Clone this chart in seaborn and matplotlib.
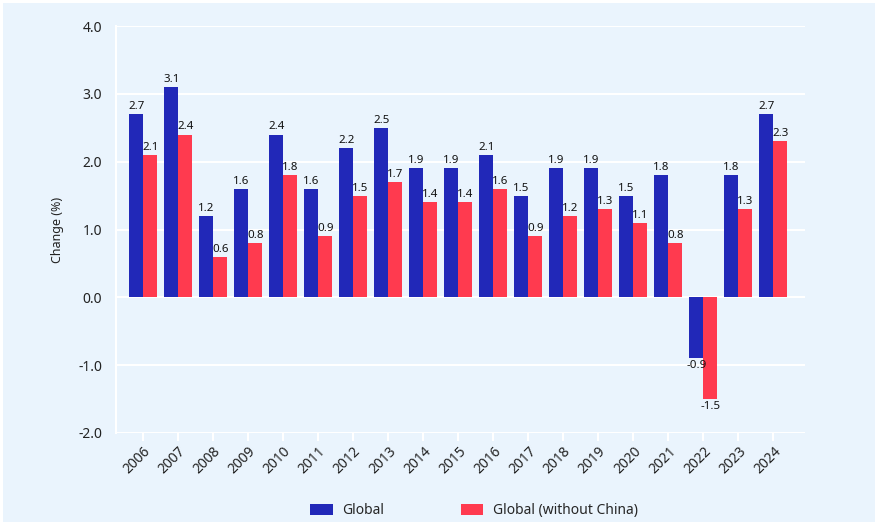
import matplotlib
matplotlib.use("Agg")
import matplotlib.pyplot as plt
import matplotlib.patches as mpatches
import seaborn as sns
import pandas as pd

years = [str(y) for y in range(2006, 2025)]
global_vals = [2.7, 3.1, 1.2, 1.6, 2.4, 1.6, 2.2, 2.5, 1.9, 1.9, 2.1, 1.5, 1.9, 1.9, 1.5, 1.8, -0.9, 1.8, 2.7]
no_china_vals = [2.1, 2.4, 0.6, 0.8, 1.8, 0.9, 1.5, 1.7, 1.4, 1.4, 1.6, 0.9, 1.2, 1.3, 1.1, 0.8, -1.5, 1.3, 2.3]
series_names = ["Global", "Global (without China)"]
yticks = [-2.0, -1.0, 0.0, 1.0, 2.0, 3.0, 4.0]

df = pd.DataFrame({
    "Year": years * 2,
    "Change": global_vals + no_china_vals,
    "Series": [series_names[0]] * len(years) + [series_names[1]] * len(years),
})

sns.set_theme(style="white")
plt.rcParams['font.family'] = ['Noto Sans', 'DejaVu Sans']

bg = "#EAF4FD"
colors = ["#2128B8", "#FF3A4F"]

fig = plt.figure(figsize=(8.78, 5.30), dpi=100, facecolor="white")
fig.patches.append(mpatches.Rectangle((3/878, 8/530), 872/878, 519/530,
                                      transform=fig.transFigure, facecolor=bg,
                                      edgecolor="none", zorder=-10))
ax = fig.add_axes([116/878, 1 - 433/530, (805 - 116)/878, (433 - 26)/530])
ax.set_facecolor(bg)

sns.barplot(data=df, x="Year", y="Change", hue="Series", palette=colors,
            width=0.8, ax=ax, saturation=1, legend=False, zorder=3,
            linewidth=0, edgecolor="none")

for cont in ax.containers:
    ax.bar_label(cont, fmt="%.1f", padding=1.5, fontsize=8.3, color="#111111")

ax.set_ylim(-2, 4)
ax.set_xlim(-0.78, 18.9)
ax.set_yticks(yticks)
ax.set_yticklabels([f"{v:.1f}" for v in yticks], fontsize=10, color="#222222")
ax.grid(axis="y", color="white", linewidth=1.5, zorder=0)
ax.set_axisbelow(True)
for s in ["top", "right", "bottom"]:
    ax.spines[s].set_visible(False)
ax.spines["left"].set_color("white")
ax.spines["left"].set_linewidth(1.5)
ax.tick_params(axis="y", length=6, color="white", width=1.5, pad=4)
ax.tick_params(axis="x", length=6, color="white", width=1.5, pad=2, bottom=True)
plt.setp(ax.get_xticklabels(), rotation=45, ha="right", rotation_mode="anchor",
         fontsize=10, color="#222222")
ax.set_xlabel("")
ax.set_ylabel("Change (%)", fontsize=9, color="#222222", labelpad=10)

handles = [mpatches.Patch(facecolor=c, edgecolor="none") for c in colors]
fig.legend(handles, series_names, loc="center", bbox_to_anchor=(0.54, 0.036),
           ncol=2, frameon=False, fontsize=10, handlelength=1.6, handleheight=0.9,
           handletextpad=0.7, columnspacing=5.5)

fig.savefig("out.png", dpi=100, facecolor="white")
